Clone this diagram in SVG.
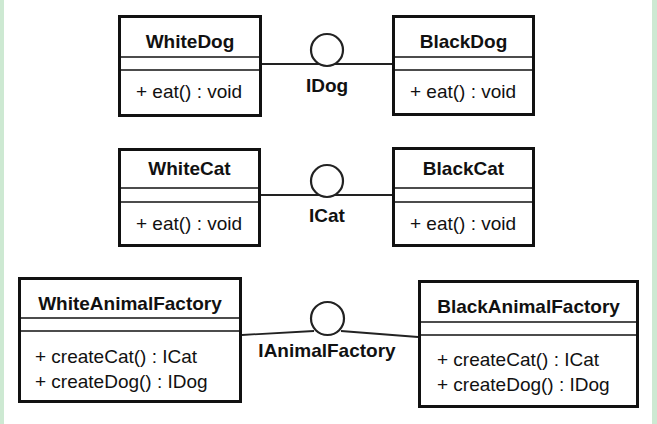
<svg xmlns="http://www.w3.org/2000/svg" width="657" height="424" viewBox="0 0 657 424">
<style>
.box{fill:#fff;stroke:#111;stroke-width:3}
.div{stroke:#111;stroke-width:1.6}
.t{font-family:"Liberation Sans",Arial,sans-serif;font-size:19px;font-weight:bold;fill:#111;text-anchor:middle}
.m{font-family:"Liberation Sans",Arial,sans-serif;font-size:19px;fill:#111}
.c{fill:none;stroke:#222;stroke-width:1.8}
.ifc{fill:#fff;stroke:#222;stroke-width:2.2}
</style>
<rect x="0" y="0" width="657" height="424" fill="#fff"/>
<rect x="0" y="0" width="4" height="424" fill="#cde9d2"/>
<rect x="652" y="0" width="5" height="424" fill="#cde9d2"/>
<g id="connectors">
<line class="c" x1="262" y1="64" x2="392" y2="64"/>
<line class="c" x1="261" y1="195" x2="392" y2="195"/>
<path class="c" d="M242 335 L314 331"/>
<path class="c" d="M341 331 L418 337"/>
</g>
<g id="WhiteDog">
<rect class="box" x="119.5" y="16.5" width="141" height="99"/>
<line class="div" x1="119.5" y1="57" x2="260.5" y2="57"/>
<line class="div" x1="119.5" y1="70" x2="260.5" y2="70"/>
<text class="t" x="190" y="48">WhiteDog</text>
<text class="m" x="136" y="98">+ eat() : void</text>
</g>
<g id="BlackDog">
<rect class="box" x="393.5" y="16.5" width="140" height="98"/>
<line class="div" x1="393.5" y1="57" x2="533.5" y2="57"/>
<line class="div" x1="393.5" y1="70" x2="533.5" y2="70"/>
<text class="t" x="463.5" y="48">BlackDog</text>
<text class="m" x="410" y="98">+ eat() : void</text>
</g>
<g id="IDog">
<circle class="ifc" cx="327" cy="50" r="16"/>
<text class="t" x="327" y="92">IDog</text>
</g>
<g id="WhiteCat">
<rect class="box" x="119.5" y="149.5" width="140" height="96"/>
<line class="div" x1="119.5" y1="188" x2="259.5" y2="188"/>
<line class="div" x1="119.5" y1="202" x2="259.5" y2="202"/>
<text class="t" x="189.5" y="175">WhiteCat</text>
<text class="m" x="136" y="230">+ eat() : void</text>
</g>
<g id="BlackCat">
<rect class="box" x="393.5" y="148.5" width="140" height="97"/>
<line class="div" x1="393.5" y1="188" x2="533.5" y2="188"/>
<line class="div" x1="393.5" y1="202" x2="533.5" y2="202"/>
<text class="t" x="463.5" y="175">BlackCat</text>
<text class="m" x="410" y="230">+ eat() : void</text>
</g>
<g id="ICat">
<circle class="ifc" cx="327" cy="181" r="16"/>
<text class="t" x="327" y="222">ICat</text>
</g>
<g id="WhiteAnimalFactory">
<rect class="box" x="19.5" y="278.5" width="221" height="123"/>
<line class="div" x1="19.5" y1="318" x2="240.5" y2="318"/>
<line class="div" x1="19.5" y1="331" x2="240.5" y2="331"/>
<text class="t" x="130" y="310">WhiteAnimalFactory</text>
<text class="m" x="35" y="363">+ createCat() : ICat</text>
<text class="m" x="35" y="388">+ createDog() : IDog</text>
</g>
<g id="BlackAnimalFactory">
<rect class="box" x="419.5" y="281.5" width="218" height="125"/>
<line class="div" x1="419.5" y1="322" x2="637.5" y2="322"/>
<line class="div" x1="419.5" y1="335" x2="637.5" y2="335"/>
<text class="t" x="528.5" y="313">BlackAnimalFactory</text>
<text class="m" x="437" y="366">+ createCat() : ICat</text>
<text class="m" x="437" y="391">+ createDog() : IDog</text>
</g>
<g id="IAnimalFactory">
<circle class="ifc" cx="327.5" cy="318.5" r="16.5"/>
<text class="t" x="327" y="357">IAnimalFactory</text>
</g>
</svg>
